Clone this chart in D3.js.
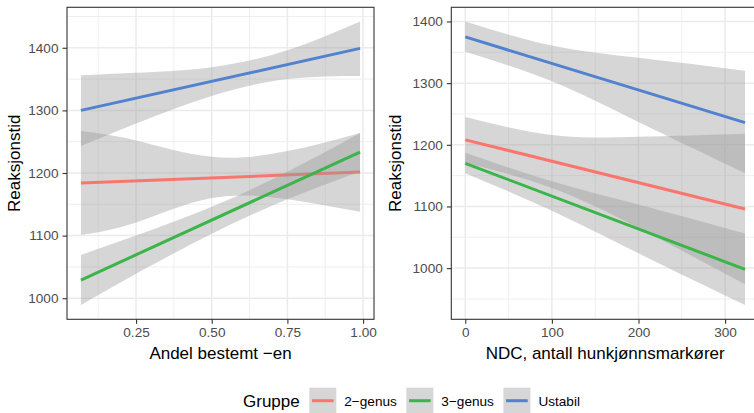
<!DOCTYPE html>
<html>
<head>
<meta charset="utf-8">
<script src="https://cdn.jsdelivr.net/npm/d3@7"></script>
<style>
body { margin: 0; background: #fff; }
text { font-family: "Liberation Sans", Arial, Helvetica, sans-serif; }
</style>
</head>
<body>
<script>
// groups
var groups = ["2−genus", "3−genus", "Ustabil"];
var groupColors = ["#F8766D", "#3BB44A", "#5181CF"];

// left panel: Andel bestemt -en
var andelEnds = [0.068, 0.99];
var andelFit2 = [1184, 1201.5];
var andelFit3 = [1029, 1233.5];
var andelFitU = [1300, 1399];
var andelGrid = [0.068, 0.25, 0.5, 0.75, 0.99];
var andelLo2 = [1101, 1121, 1160, 1158, 1138];
var andelHi2 = [1267, 1252, 1226, 1235, 1264];
var andelLo3 = [989, 1039, 1103, 1158, 1202];
var andelHi3 = [1069, 1100, 1146, 1202, 1264];
var andelLoU = [1243, 1279, 1323, 1350, 1355];
var andelHiU = [1356, 1360, 1369, 1396, 1442];
var andelTicks = [0.25, 0.5, 0.75, 1.0];

// right panel: NDC
var ndcEnds = [0, 323];
var ndcFit2 = [1208, 1096];
var ndcFit3 = [1170, 998];
var ndcFitU = [1375, 1236];
var ndcGrid = [0, 100, 200, 323];
var ndcLo2 = [1171, 1130, 1065, 974];
var ndcHi2 = [1245, 1216, 1213, 1218];
var ndcLo3 = [1154, 1093, 1024, 940];
var ndcHi3 = [1187, 1141, 1103, 1056];
var ndcLoU = [1351, 1303, 1237, 1154];
var ndcHiU = [1400, 1361, 1341, 1320];
var ndcTicks = [0, 100, 200, 300];

var yTicks = [1000, 1100, 1200, 1300, 1400];

var width = 754, height = 413;
var panelTop = 7.3, panelBottom = 319.3;

var svg = d3.select("body").append("svg")
    .attr("width", width)
    .attr("height", height);

// ggplot style 5% expansion
function expand(lo, hi) {
  var d = (hi - lo) * 0.05;
  return [lo - d, hi + d];
}

function minorBreaks(ticks, domain) {
  var step = ticks[1] - ticks[0], out = [];
  var all = [ticks[0] - step].concat(ticks, [ticks[ticks.length - 1] + step]);
  for (var i = 0; i < all.length - 1; i++) {
    var m = (all[i] + all[i + 1]) / 2;
    if (m > domain[0] && m < domain[1]) out.push(m);
  }
  return out;
}

function drawPanel(p) {
  var x = d3.scaleLinear().domain(expand(p.ends[0], p.ends[1])).range([p.left, p.right]);
  var allY = d3.merge(p.lo.concat(p.hi));
  var y = d3.scaleLinear().domain(expand(d3.min(allY), d3.max(allY))).range([panelBottom, panelTop]);

  var g = svg.append("g");
  var clipId = "clip" + p.id;
  svg.append("clipPath").attr("id", clipId)
    .append("rect")
      .attr("x", p.left).attr("y", panelTop)
      .attr("width", p.right - p.left).attr("height", panelBottom - panelTop);

  // grid
  var grid = g.append("g").attr("clip-path", "url(#" + clipId + ")");
  minorBreaks(p.xTicks, x.domain()).forEach(function(v) {
    grid.append("line").attr("x1", x(v)).attr("x2", x(v)).attr("y1", panelTop).attr("y2", panelBottom)
      .attr("stroke", "#ebebeb").attr("stroke-width", 0.8);
  });
  minorBreaks(yTicks, y.domain()).forEach(function(v) {
    grid.append("line").attr("y1", y(v)).attr("y2", y(v)).attr("x1", p.left).attr("x2", p.right)
      .attr("stroke", "#ebebeb").attr("stroke-width", 0.8);
  });
  p.xTicks.forEach(function(v) {
    grid.append("line").attr("x1", x(v)).attr("x2", x(v)).attr("y1", panelTop).attr("y2", panelBottom)
      .attr("stroke", "#ebebeb").attr("stroke-width", 1.5);
  });
  yTicks.forEach(function(v) {
    grid.append("line").attr("y1", y(v)).attr("y2", y(v)).attr("x1", p.left).attr("x2", p.right)
      .attr("stroke", "#ebebeb").attr("stroke-width", 1.5);
  });

  // ribbons and fitted lines, group by group
  var plot = g.append("g").attr("clip-path", "url(#" + clipId + ")");
  var area = d3.area()
      .x(function(d) { return x(d.x); })
      .y0(function(d) { return y(d.lo); })
      .y1(function(d) { return y(d.hi); })
      .curve(d3.curveNatural);
  var line = d3.line()
      .x(function(d) { return x(d.x); })
      .y(function(d) { return y(d.y); });

  groups.forEach(function(grp, i) {
    var band = p.grid.map(function(v, j) { return {x: v, lo: p.lo[i][j], hi: p.hi[i][j]}; });
    plot.append("path")
        .attr("d", area(band))
        .attr("fill", "#999999")
        .attr("fill-opacity", 0.4);
    var fit = p.ends.map(function(v, j) { return {x: v, y: p.fit[i][j]}; });
    plot.append("path")
        .attr("d", line(fit))
        .attr("fill", "none")
        .attr("stroke", groupColors[i])
        .attr("stroke-width", 3);
  });

  // panel border
  g.append("rect")
      .attr("x", p.left).attr("y", panelTop)
      .attr("width", p.right - p.left).attr("height", panelBottom - panelTop)
      .attr("fill", "none").attr("stroke", "#333333").attr("stroke-width", 1.1);

  // axes
  var xAxis = g.append("g")
      .attr("transform", "translate(0," + panelBottom + ")")
      .call(d3.axisBottom(x).tickValues(p.xTicks).tickFormat(p.xFormat).tickSize(4.5).tickPadding(4));
  var yAxis = g.append("g")
      .attr("transform", "translate(" + p.left + ",0)")
      .call(d3.axisLeft(y).tickValues(yTicks).tickFormat(d3.format("d")).tickSize(4.5).tickPadding(4));
  [xAxis, yAxis].forEach(function(a) {
    a.select(".domain").remove();
    a.selectAll(".tick line").attr("stroke", "#333333").attr("stroke-width", 1.1);
    a.selectAll(".tick text").attr("fill", "#4d4d4d").style("font-size", "13.6px")
      .style("font-family", "'Liberation Sans', Arial, Helvetica, sans-serif");
  });

  // titles
  svg.append("text")
      .attr("x", (p.left + p.right) / 2)
      .attr("y", 358.7)
      .attr("text-anchor", "middle")
      .style("font-size", "17px")
      .attr("fill", "#000")
      .text(p.xTitle);
  svg.append("text")
      .attr("transform", "translate(" + p.yTitleX + "," + ((panelTop + panelBottom) / 2) + ") rotate(-90)")
      .attr("text-anchor", "middle")
      .style("font-size", "17px")
      .attr("fill", "#000")
      .text("Reaksjonstid");
}

drawPanel({
  id: "L", left: 67, right: 374,
  ends: andelEnds, fit: [andelFit2, andelFit3, andelFitU],
  grid: andelGrid, lo: [andelLo2, andelLo3, andelLoU], hi: [andelHi2, andelHi3, andelHiU],
  xTicks: andelTicks, xFormat: d3.format(".2f"),
  xTitle: "Andel bestemt −en", yTitleX: 20
});

drawPanel({
  id: "R", left: 451.3, right: 759,
  ends: ndcEnds, fit: [ndcFit2, ndcFit3, ndcFitU],
  grid: ndcGrid, lo: [ndcLo2, ndcLo3, ndcLoU], hi: [ndcHi2, ndcHi3, ndcHiU],
  xTicks: ndcTicks, xFormat: d3.format("d"),
  xTitle: "NDC, antall hunkjønnsmarkører", yTitleX: 401
});

// legend
var legend = svg.append("g");
var legendY = 400.7;
var lx = 243;
var title = legend.append("text")
    .attr("x", lx).attr("y", legendY + 6)
    .style("font-size", "17px")
    .attr("fill", "#000")
    .text("Gruppe");
lx += title.node().getComputedTextLength() + 9.6;

groups.forEach(function(grp, i) {
  legend.append("rect")
      .attr("x", lx).attr("y", legendY - 13)
      .attr("width", 27).attr("height", 26)
      .attr("fill", "#999999").attr("fill-opacity", 0.4);
  legend.append("line")
      .attr("x1", lx + 2.7).attr("x2", lx + 24.3)
      .attr("y1", legendY).attr("y2", legendY)
      .attr("stroke", groupColors[i]).attr("stroke-width", 3);
  var t = legend.append("text")
      .attr("x", lx + 35).attr("y", legendY + 5)
      .style("font-size", "13.6px")
      .attr("fill", "#000")
      .text(grp);
  lx += 35 + t.node().getComputedTextLength() + 9.5;
});
</script>
</body>
</html>
